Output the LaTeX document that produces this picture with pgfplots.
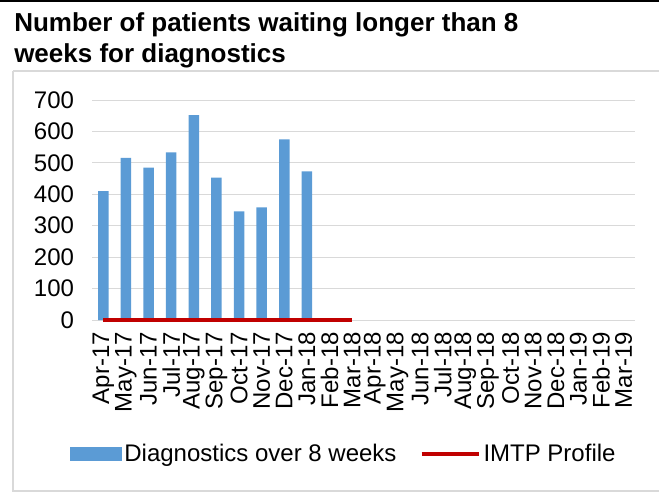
\documentclass[border=0pt]{standalone}
\usepackage{pgfplots}
\pgfplotsset{compat=1.18}
\usepackage{fontspec}
\setmainfont{Liberation Sans}
\definecolor{barblue}{HTML}{5B9BD5}
\definecolor{linered}{HTML}{C00000}
\definecolor{gridgray}{HTML}{D9D9D9}
\definecolor{framegray}{HTML}{D9D9D9}
\begin{document}
\begin{tikzpicture}[x=0.75pt,y=0.75pt]
\useasboundingbox (0,0) rectangle (659,494);
\fill[black] (0,494) rectangle (659,491.5);
\draw[framegray, line width=1.6pt] (13,423) -- (13,3) -- (672,3);
\draw[framegray, line width=1.6pt] (13,423) -- (672,423);
\node[anchor=base west, align=left, inner sep=0pt, font=\fontsize{19.5}{22.5}\selectfont\bfseries] at (14,462) {Number of patients waiting longer than 8};
\node[anchor=base west, align=left, inner sep=0pt, font=\fontsize{19.5}{22.5}\selectfont\bfseries] at (14,432) {weeks for diagnostics};
\coordinate (A) at (92,174);
\begin{axis}[
  at={(A)}, anchor=south west,
  scale only axis, width=407.25pt, height=165pt,
  xmin=-0.5, xmax=23.5, ymin=0, ymax=700,
  clip=false,
  ytick={0,100,...,700},
  xtick={0,...,23},
  xticklabels={Apr-17,May-17,Jun-17,Jul-17,Aug-17,Sep-17,Oct-17,Nov-17,Dec-17,Jan-18,Feb-18,Mar-18,Apr-18,May-18,Jun-18,Jul-18,Aug-18,Sep-18,Oct-18,Nov-18,Dec-18,Jan-19,Feb-19,Mar-19},
  minor xtick={-0.5,0.5,...,23.5},
  major tick length=0pt,
  minor tick length=4pt,
  tick align=outside,
  minor tick style={gridgray, line width=0.75pt},
  ymajorgrids, grid style={gridgray, line width=0.75pt},
  separate axis lines,
  axis x line*=bottom,
  axis y line*=left,
  x axis line style={gridgray, line width=0.75pt, -},
  y axis line style={draw=none},
  ytick style={draw=none},
  xtick style={draw=none},
  /pgf/number format/assume math mode=true,
  tick label style={font=\fontsize{18}{20}\selectfont},
  yticklabel style={anchor=east, xshift=-10pt},
  xticklabel style={rotate=90, anchor=east, xshift=-9pt, inner sep=0pt},
  legend columns=2,
  legend style={at={(0.464,-0.609)}, anchor=center, draw=none, fill=none,
    font=\fontsize{18}{20}\selectfont,
    /tikz/every even column/.append style={column sep=15pt},
    inner sep=0pt},
]
\addplot[ybar, bar width=7.9pt, fill=barblue, draw=none,
  legend image code/.code={\fill[barblue] (0pt,-5.25pt) rectangle (39pt,5.25pt);}]
  coordinates {(0,410) (1,516) (2,485) (3,533) (4,652) (5,453) (6,346) (7,358) (8,575) (9,473)};
\addlegendentry{Diagnostics over 8 weeks}
\addplot[linered, line width=2.6pt, mark=none,
  legend image code/.code={\draw[linered, line width=3.5pt] (0pt,0pt) -- (42.75pt,0pt);}]
  coordinates {(0,0) (1,0) (2,0) (3,0) (4,0) (5,0) (6,0) (7,0) (8,0) (9,0) (10,0) (11,0)};
\addlegendentry{IMTP Profile}
\end{axis}
\end{tikzpicture}
\end{document}
